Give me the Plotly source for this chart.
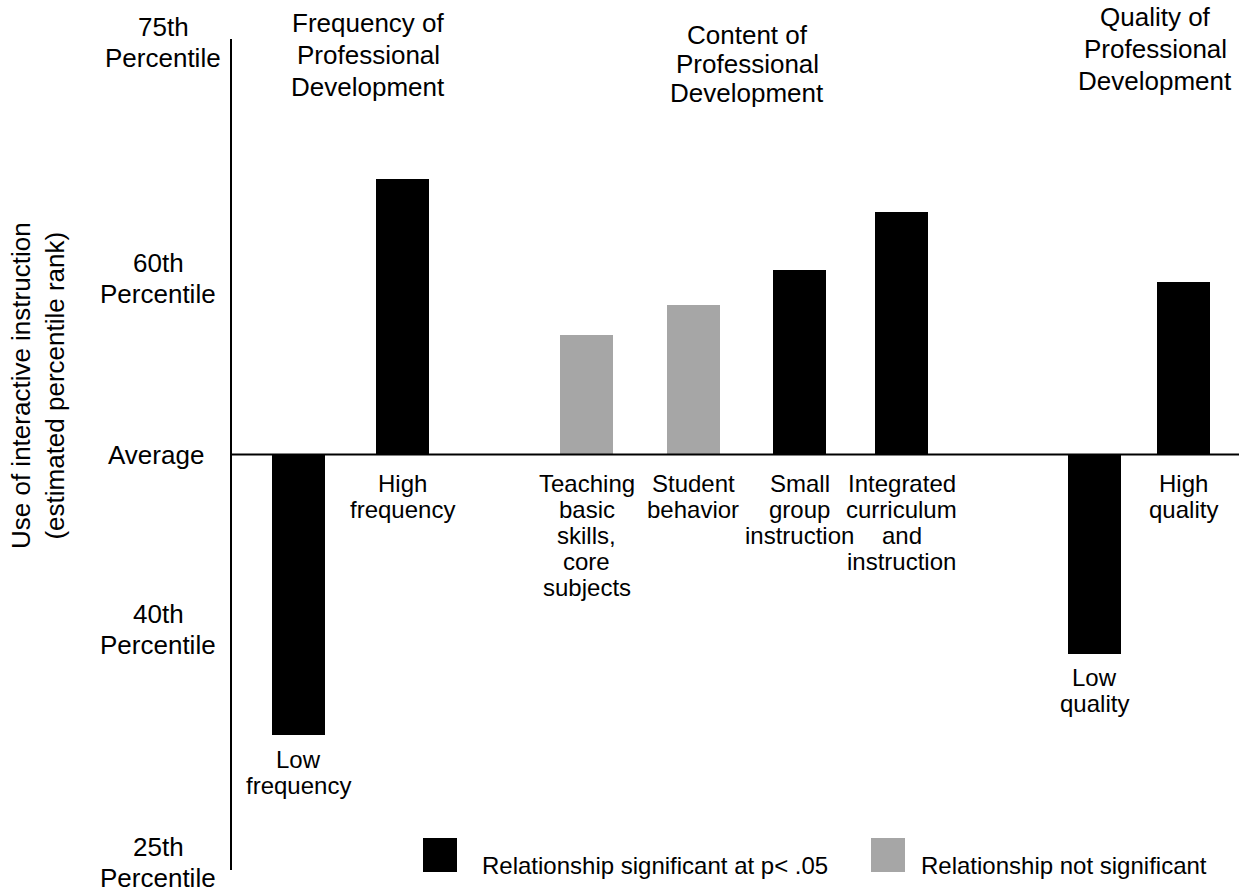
import plotly.graph_objects as go

# ---------------- data ----------------
categories = [
    "Low frequency", "High frequency",
    "Teaching basic skills, core subjects", "Student behavior",
    "Small group instruction", "Integrated curriculum and instruction",
    "Low quality", "High quality",
]
category_lines = [
    ["Low", "frequency"],
    ["High", "frequency"],
    ["Teaching", "basic", "skills,", "core", "subjects"],
    ["Student", "behavior"],
    ["Small", "group", "instruction"],
    ["Integrated", "curriculum", "and", "instruction"],
    ["Low", "quality"],
    ["High", "quality"],
]
percentile_rank = [33.1, 66.6, 57.2, 59.0, 61.1, 64.6, 38.0, 60.4]
significant = [True, True, False, False, True, True, True, True]

group_titles = [
    ["Frequency of", "Professional", "Development"],
    ["Content of", "Professional", "Development"],
    ["Quality of", "Professional", "Development"],
]
tick_values = [75, 60, 50, 40, 25]
tick_labels = [["75th", "Percentile"], ["60th", "Percentile"], ["Average"],
               ["40th", "Percentile"], ["25th", "Percentile"]]
average = 50
y_title = "Use of interactive instruction<br>(estimated percentile rank)"
legend_labels = ["Relationship significant at p&lt; .05", "Relationship not significant"]

# ---------------- layout / style ----------------
W, H = 1239, 892
M_L, M_R, M_T, M_B = 232, 0, 39, 22
PLOT_W = W - M_L - M_R
PLOT_H = H - M_T - M_B
FONT = "Liberation Sans, Arial, Helvetica, sans-serif"
SIG_COLOR = "#000000"
NS_COLOR = "#a6a6a6"

slot_x = [66.5, 170.5, 354.5, 461, 567.5, 669.5, 862.5, 951.5]   # bar slots along the x axis
bar_w = 53
title_x = [136, 515, 923]
title_top = [23, 35, 17]          # pixel centre of first title line
title_gap = [32, 29, 32]
tick_nudge = [-3, 10, 0, -9, 8]   # small vertical nudges of the tick text blocks (px, +up)
tick_xshift = [-69, -74, -76, -74, -74]


def px2paper_x(px):
    return (px - M_L) / PLOT_W


def px2paper_y(py):
    return (H - M_B - py) / PLOT_H


colors = [SIG_COLOR if s else NS_COLOR for s in significant]

fig = go.Figure()
fig.add_trace(go.Bar(
    x=slot_x,
    y=[v - average for v in percentile_rank],
    base=average,
    width=bar_w,
    marker=dict(color=colors, line=dict(width=0)),
    customdata=categories,
    hovertemplate="%{customdata}: %{y}<extra></extra>",
    showlegend=False,
))

annotations = []
FS_CAT = 24
# category labels (under the average line for positive bars, under the bar for negative)
for xs, v, lines in zip(slot_x, percentile_rank, category_lines):
    if v >= average:
        y0, off = average, 29
    else:
        y0, off = v, 24
    for i, ln in enumerate(lines):
        annotations.append(dict(
            x=xs, y=y0, xref="x", yref="y", text=ln, showarrow=False,
            xanchor="center", yanchor="middle", yshift=-(off + 26 * i),
            font=dict(family=FONT, size=FS_CAT, color="black"),
        ))

# group titles
for tx, top, gap, lines in zip(title_x, title_top, title_gap, group_titles):
    for i, ln in enumerate(lines):
        annotations.append(dict(
            x=tx, y=px2paper_y(top + gap * i), xref="x", yref="paper", text=ln,
            showarrow=False, xanchor="center", yanchor="middle",
            font=dict(family=FONT, size=26, color="black"),
        ))

# tick labels (centred text blocks left of the axis)
TICK_GAP = 31
for tv, lines, nud, xsh in zip(tick_values, tick_labels, tick_nudge, tick_xshift):
    n = len(lines)
    for i, ln in enumerate(lines):
        annotations.append(dict(
            x=0, y=tv, xref="paper", yref="y", text=ln, showarrow=False,
            xanchor="center", yanchor="middle", xshift=xsh,
            yshift=nud - (i - (n - 1) / 2) * TICK_GAP,
            font=dict(family=FONT, size=26, color="black"),
        ))

# y-axis title
annotations.append(dict(
    x=px2paper_x(38), y=px2paper_y(386), xref="paper", yref="paper", text=y_title,
    showarrow=False, textangle=-90, xanchor="center", yanchor="middle",
    font=dict(family=FONT, size=26, color="black"),
))

# legend
legend_items = [(legend_labels[0], SIG_COLOR, 423, 480), (legend_labels[1], NS_COLOR, 871, 919)]
shapes = []
for lab, col, sx, tx in legend_items:
    shapes.append(dict(
        type="rect", xref="paper", yref="paper",
        x0=px2paper_x(sx), x1=px2paper_x(sx + 34),
        y0=px2paper_y(872), y1=px2paper_y(838),
        fillcolor=col, line=dict(width=0),
    ))
    annotations.append(dict(
        x=px2paper_x(tx), y=px2paper_y(865), xref="paper", yref="paper", text=lab,
        showarrow=False, xanchor="left", yanchor="middle",
        font=dict(family=FONT, size=24, color="black"),
    ))

# average line
shapes.append(dict(
    type="line", xref="paper", yref="y", x0=0, x1=1, y0=average, y1=average,
    line=dict(color="black", width=2), layer="above",
))

fig.update_layout(
    width=W, height=H,
    margin=dict(l=M_L, r=M_R, t=M_T, b=M_B),
    paper_bgcolor="white", plot_bgcolor="white",
    xaxis=dict(range=[0, PLOT_W], visible=False, fixedrange=True),
    yaxis=dict(range=[25, 75], showgrid=False, zeroline=False, showticklabels=False,
               ticks="", showline=True, linecolor="black", linewidth=2, fixedrange=True),
    annotations=annotations,
    shapes=shapes,
    bargap=0,
    font=dict(family=FONT, color="black"),
)

fig.write_html("out.html", post_script="document.body.style.margin='0';",
               config={"displayModeBar": False})
